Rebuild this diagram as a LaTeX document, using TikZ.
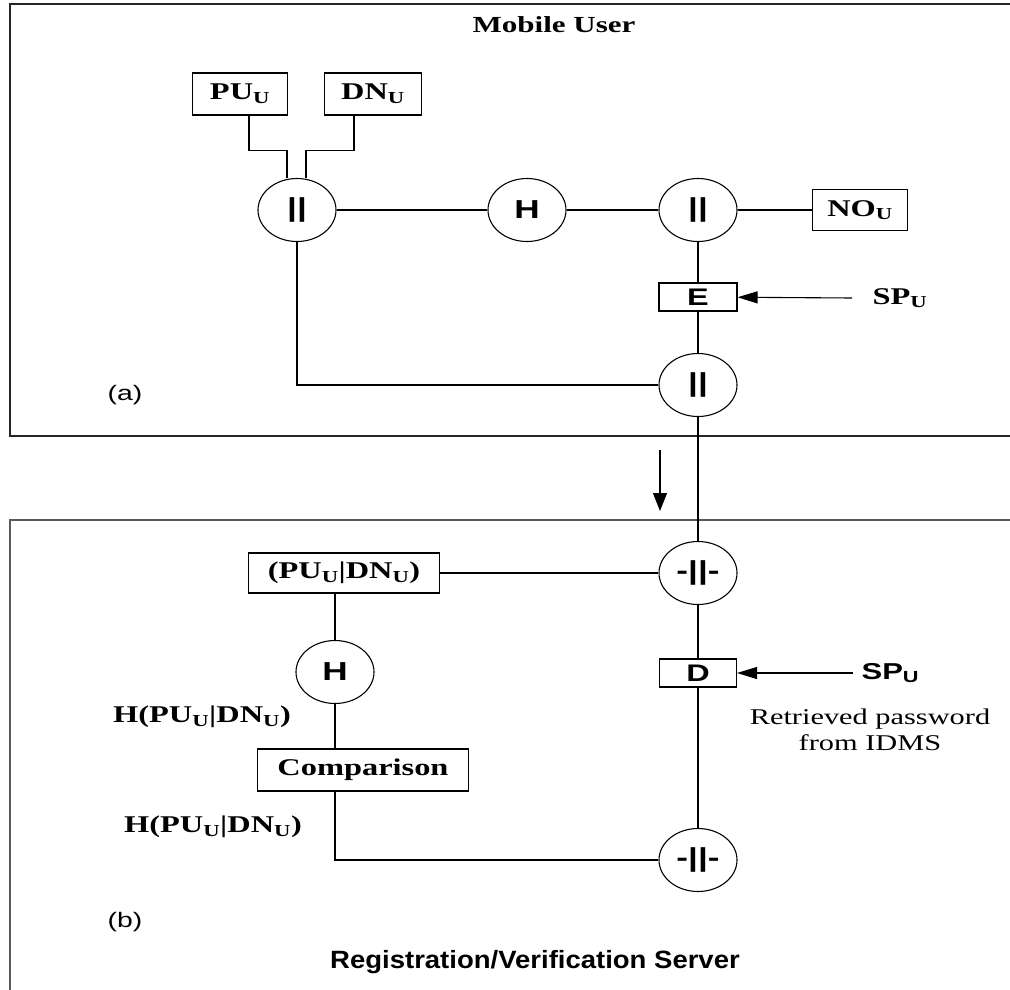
\documentclass[tikz,border=0pt]{standalone}
\usepackage{fontspec}
\setmainfont{Liberation Serif}[FakeStretch=1.35]
\setsansfont{Liberation Sans}[FakeStretch=1.35]
\newfontfamily\narrowsans{Liberation Sans}[FakeStretch=1.1]
\usetikzlibrary{shapes.geometric, arrows.meta}

\begin{document}
\begin{tikzpicture}[x=1pt, y=-1pt, line width=1.1pt,
	op/.style={draw, ellipse, minimum width=78pt, minimum height=63pt, inner sep=0pt, font=\sffamily\bfseries\fontsize{26}{28}\selectfont},
	blk/.style={draw, rectangle, inner sep=0pt, font=\bfseries\fontsize{24}{26}\selectfont},
	sblk/.style={blk, font=\sffamily\bfseries\fontsize{24}{26}\selectfont},
	lbl/.style={inner sep=0pt, font=\bfseries\fontsize{24}{26}\selectfont},
	slbl/.style={inner sep=0pt, font=\sffamily\fontsize{21}{24}\selectfont},
	feed/.style={-{Triangle[length=20pt, width=12pt]}}]
	\clip (0,0) rectangle (1010,990);
	% frames
	\draw[line width=1.6pt, black!85] (10,4) rectangle (1040,436);
	\draw[line width=1.6pt, black!65] (10,520) rectangle (1040,1040);
	% (a) mobile user
	\node[lbl, font=\bfseries\fontsize{23}{26}\selectfont] (mu) at (554,25) {Mobile User};
	\node[blk, minimum width=95pt, minimum height=42pt] (pu) at (240,94) {PU\textsubscript{U}};
	\node[blk, minimum width=97pt, minimum height=42pt] (dn) at (373,94) {DN\textsubscript{U}};
	\node[op] (c1) at (297,210) {||};
	\node[op] (h1) at (527,210) {H};
	\node[op] (c2) at (698,210) {||};
	\node[blk, minimum width=95pt, minimum height=41pt] (no) at (860,210) {NO\textsubscript{U}};
	\node[sblk, minimum width=78pt, minimum height=28pt] (enc) at (698,297) {E};
	\node[lbl, anchor=west] (spa) at (872,298) {SP\textsubscript{U}};
	\node[op] (c3) at (698,385) {||};
	\node[slbl] (la) at (125,395) {(a)};
	\draw ([xshift=9pt]pu.south) -- ++(0,35) -| ([xshift=-10pt]c1.north);
	\draw ([xshift=-19pt]dn.south) -- ++(0,35) -| ([xshift=9pt]c1.north);
	\draw (c1) -- (h1) -- (c2) -- (no);
	\draw (c2) -- (enc) -- (c3);
	\draw[feed] ([xshift=-20pt]spa.west) -- (enc);
	\draw (c1) |- (c3);
	% transfer
	\coordinate (dtop) at (660,450);
	\coordinate (dbot) at (660,511);
	\draw[-{Triangle[length=18pt, width=14pt]}] (dtop) -- (dbot);
	% (b) server
	\node[op] (s1) at (698,573) {-||-};
	\node[blk, minimum width=191pt, minimum height=40pt] (pd) at (344,573) {(PU\textsubscript{U}|DN\textsubscript{U})};
	\node[sblk, minimum width=77pt, minimum height=28pt] (dec) at (698,673) {D};
	\node[slbl, font=\sffamily\bfseries\fontsize{23}{26}\selectfont, anchor=west] (spb) at (861,673) {SP\textsubscript{U}};
	\node[align=center, inner sep=0pt, font=\fontsize{22.5}{26}\selectfont] (ret) at (870,730) {Retrieved password\\from IDMS};
	\node[op] (h2) at (335,672) {H};
	\node[lbl] (hv1) at (202,717) {H(PU\textsubscript{U}|DN\textsubscript{U})};
	\node[blk, minimum width=211pt, minimum height=42pt] (cmp) at (363,770) {Comparison};
	\node[lbl] (hv2) at (213,827) {H(PU\textsubscript{U}|DN\textsubscript{U})};
	\node[op] (s2) at (698,860) {-||-};
	\node[slbl] (lb) at (125,922) {(b)};
	\node[inner sep=0pt, font=\narrowsans\bfseries\fontsize{25}{28}\selectfont] (srv) at (535,962) {Registration/Verification Server};
	\draw (c3) -- (s1) -- (dec) -- (s2);
	\draw (pd) -- (s1);
	\draw (pd.south -| h2) -- (h2) -- (h2 |- cmp.north);
	\draw[feed] ([xshift=-8pt]spb.west) -- (dec);
	\draw (h2 |- cmp.south) |- (s2);
\end{tikzpicture}
\end{document}
